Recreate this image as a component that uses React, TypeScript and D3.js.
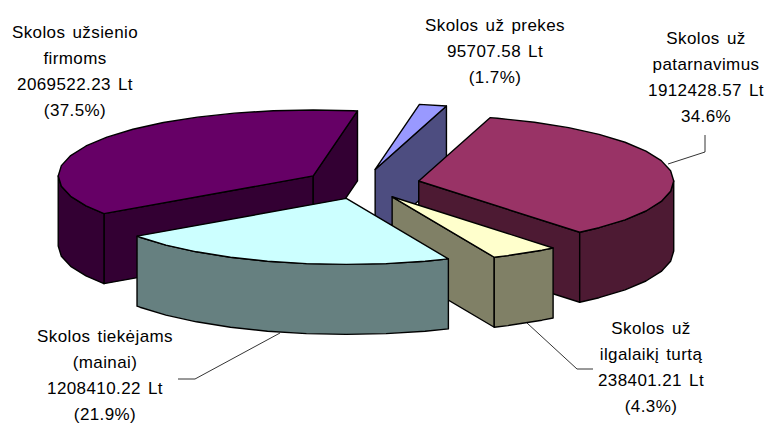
import React from "react";
import * as d3 from "d3";

const WIDTH = 766;
const HEIGHT = 424;

// ---- data, in the chart's clockwise order from the start angle ----
const categories = [
  "Skolos už prekes",
  "Skolos už patarnavimus",
  "Skolos už ilgalaikį turtą",
  "Skolos tiekėjams (mainai)",
  "Skolos užsienio firmoms",
];
const values = [95707.58, 1912428.57, 238401.21, 1208410.22, 2069522.23];
const valueLabels = ["95707.58 Lt", "1912428.57 Lt", "238401.21 Lt", "1208410.22 Lt", "2069522.23 Lt"];
const percentLabels = ["(1.7%)", "34.6%", "(4.3%)", "(21.9%)", "(37.5%)"];
const nameLines = [
  ["Skolos už prekes"],
  ["Skolos už", "patarnavimus"],
  ["Skolos už", "ilgalaikį turtą"],
  ["Skolos tiekėjams", "(mainai)"],
  ["Skolos užsienio", "firmoms"],
];

// ---- styles and layout ----
const topColors = ["#9999ff", "#993366", "#ffffcc", "#ccffff", "#660066"];
const sideColors = ["#4d4d80", "#4d1a33", "#808066", "#668080", "#330033"];
const drawOrder = [4, 0, 1, 2, 3];
const labelCentres = [495, 706, 651, 105, 75];
const labelFirstBaselines = [31, 44, 334, 342, 38];
const leaderLines: [number, number][][] = [
  [],
  [[668, 164], [705, 152], [705, 135]],
  [[527, 323], [577, 369], [593, 369]],
  [[280, 333], [195, 379], [178, 379]],
  [],
];

const CX = 362;
const CY = 184;
const RX = 255;
const RY = 66;
const DEPTH = 70;
const EXPLODE = 0.227;
const START = (10 * Math.PI) / 180;
const STEP = (9 * Math.PI) / 180;

const pie = d3
  .pie<number>()
  .sort(null)
  .startAngle(START)
  .endAngle(START + 2 * Math.PI);
const arcs = pie(values);

const xScale = d3.scaleLinear().domain([-1, 1]).range([CX - RX, CX + RX]);
const yScale = d3.scaleLinear().domain([-1, 1]).range([CY - RY, CY + RY]);
const line = d3.line<[number, number]>().curve(d3.curveLinear);

function rim(t: number, m: number[]): [number, number] {
  return [xScale(Math.sin(t) + m[0]), yScale(-Math.cos(t) + m[1])];
}

function angles(a: number, b: number) {
  const out = [a];
  let t = Math.ceil(a / STEP) * STEP;
  if (t <= a) t += STEP;
  for (; t < b; t += STEP) out.push(t);
  out.push(b);
  return out;
}

function Slice({ i }: { i: number }) {
  const { startAngle: a0, endAngle: a1 } = arcs[i];
  const mid = (a0 + a1) / 2;
  const off = [EXPLODE * Math.sin(mid), -EXPLODE * Math.cos(mid)];
  const apex: [number, number] = [xScale(off[0]), yScale(off[1])];
  const down = (p: [number, number]): [number, number] => [p[0], p[1] + DEPTH];
  const outer = angles(a0, a1).map((t) => rim(t, off));
  const midPt = rim(mid, off);

  const walls: [number, number][][] = [];
  const radialVisible = (t: number) => {
    const p = rim(t, off);
    const ex = p[0] - apex[0];
    const ey = p[1] - apex[1];
    // normal to the edge that points away from the slice interior
    let nx = -ey;
    let ny = ex;
    if (nx * (midPt[0] - apex[0]) + ny * (midPt[1] - apex[1]) > 0) {
      nx = -nx;
      ny = -ny;
    }
    return ny > 0;
  };
  for (const t of [a0, a1]) {
    if (radialVisible(t)) {
      const p = rim(t, off);
      walls.push([apex, p, down(p), down(apex)]);
    }
  }
  // front-facing part of the outer rim
  const turn = 2 * Math.PI;
  for (const k of [0, 1]) {
    const lo = Math.max(a0, Math.PI / 2 + k * turn);
    const hi = Math.min(a1, (3 * Math.PI) / 2 + k * turn);
    if (hi > lo) {
      const pts = angles(lo, hi).map((t) => rim(t, off));
      walls.push([...pts, ...pts.slice().reverse().map(down)]);
    }
  }
  const top: [number, number][] = [apex, ...outer];
  return (
    <g stroke="#000" strokeWidth={1.4} strokeLinejoin="round">
      {walls.map((w, j) => (
        <path key={j} d={line(w) + "Z"} fill={sideColors[i]} />
      ))}
      <path d={line(top) + "Z"} fill={topColors[i]} />
    </g>
  );
}

function Label({ i }: { i: number }) {
  const lines = [...nameLines[i], valueLabels[i], percentLabels[i]];
  return (
    <g>
      {leaderLines[i].length > 0 && (
        <path d={line(leaderLines[i]) as string} fill="none" stroke="#000" strokeWidth={0.8} />
      )}
      <text
        fontFamily="'Liberation Sans', Arial, sans-serif"
        fontSize={17}
        letterSpacing={0.4}
        wordSpacing={2}
        textAnchor="middle"
        fill="#000"
      >
        {lines.map((l, j) => (
          <tspan key={j} x={labelCentres[i]} y={labelFirstBaselines[i] + j * 26}>
            {l}
          </tspan>
        ))}
      </text>
    </g>
  );
}

export default function App() {
  return (
    <svg
      width={WIDTH}
      height={HEIGHT}
      viewBox={`0 0 ${WIDTH} ${HEIGHT}`}
      style={{ position: "fixed", left: 0, top: 0, background: "#fff" }}
      aria-label={categories.join(", ")}
    >
      {drawOrder.map((i) => (
        <Slice key={i} i={i} />
      ))}
      {drawOrder.map((i) => (
        <Label key={i} i={i} />
      ))}
    </svg>
  );
}
